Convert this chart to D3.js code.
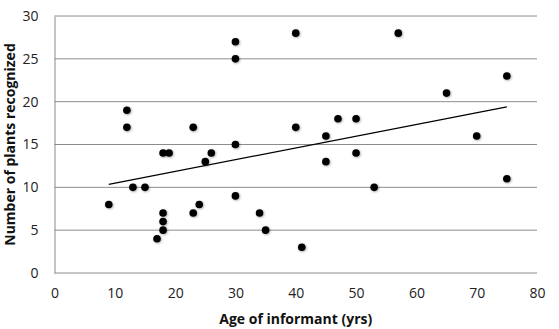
<!DOCTYPE html>
<html>
<head>
<meta charset="utf-8">
<script src="https://cdn.jsdelivr.net/npm/d3@7"></script>
<style>
  body { margin: 0; background: #fff; }
  svg { display: block; font-family: "Open Sans", sans-serif; }
</style>
</head>
<body>
<div id="wrapper"></div>
<script>
// age of informant (yrs) and number of plants recognized
const ages   = [9, 12, 12, 13, 15, 17, 18, 19, 18, 18, 18, 23, 23, 24, 25, 26, 30, 30, 30, 30,
                34, 35, 40, 40, 41, 45, 45, 47, 50, 50, 53, 57, 65, 70, 75, 75]
const plants = [8, 19, 17, 10, 10, 4, 14, 14, 7, 6, 5, 17, 7, 8, 13, 14, 27, 25, 15, 9,
                7, 5, 28, 17, 3, 16, 13, 18, 18, 14, 10, 28, 21, 16, 23, 11]
const xTicks = [0, 10, 20, 30, 40, 50, 60, 70, 80]
const yTicks = [0, 5, 10, 15, 20, 25, 30]

const dataset = ages.map((a, i) => ({ age: a, plants: plants[i] }))
const xAccessor = d => d.age
const yAccessor = d => d.plants

let dimensions = {
    width: 559,
    height: 329,
    margin: { top: 16, right: 22, bottom: 56, left: 54.5 },
}
dimensions.boundedWidth = dimensions.width - dimensions.margin.left - dimensions.margin.right
dimensions.boundedHeight = dimensions.height - dimensions.margin.top - dimensions.margin.bottom

const wrapper = d3.select("#wrapper")
    .append("svg")
    .attr("width", dimensions.width)
    .attr("height", dimensions.height)

const defs = wrapper.append("defs")
const shadow = defs.append("filter").attr("id", "shadow")
    .attr("x", "-50%").attr("y", "-50%").attr("width", "200%").attr("height", "200%")
shadow.append("feDropShadow")
    .attr("dx", 0.8).attr("dy", 0.8).attr("stdDeviation", 0.9)
    .attr("flood-color", "#000").attr("flood-opacity", 0.35)

const bounds = wrapper.append("g")
    .attr("transform", `translate(${dimensions.margin.left},${dimensions.margin.top})`)

const xScaler = d3.scaleLinear()
    .domain([0, 80])
    .range([0, dimensions.boundedWidth])

const yScaler = d3.scaleLinear()
    .domain([0, 30])
    .range([dimensions.boundedHeight, 0])

// gridlines
bounds.append("g")
    .selectAll("line")
    .data(yTicks)
    .join("line")
    .attr("x1", 0)
    .attr("x2", dimensions.boundedWidth)
    .attr("y1", d => yScaler(d))
    .attr("y2", d => yScaler(d))
    .attr("stroke", "#8c8c8c")
    .attr("stroke-width", 1)

// y axis
const yAxisGen = d3.axisLeft(yScaler).tickValues(yTicks).tickSize(0).tickPadding(16)
const yAxis = bounds.append("g").call(yAxisGen)
yAxis.select(".domain").attr("stroke", "#8c8c8c")
yAxis.selectAll("text")
    .attr("font-size", "14px")
    .attr("fill", "#222")
    .attr("font-family", "'Open Sans', sans-serif")

// x axis (labels only)
const xAxisGen = d3.axisBottom(xScaler).tickValues(xTicks).tickSize(0).tickPadding(15)
const xAxis = bounds.append("g")
    .attr("transform", `translate(0,${dimensions.boundedHeight})`)
    .call(xAxisGen)
xAxis.select(".domain").remove()
xAxis.selectAll("text")
    .attr("font-size", "14px")
    .attr("fill", "#222")
    .attr("font-family", "'Open Sans', sans-serif")

// linear trendline (least squares)
const meanX = d3.mean(dataset, xAccessor)
const meanY = d3.mean(dataset, yAccessor)
const slope = d3.sum(dataset, d => (xAccessor(d) - meanX) * (yAccessor(d) - meanY))
    / d3.sum(dataset, d => (xAccessor(d) - meanX) ** 2)
const intercept = meanY - slope * meanX
const [minX, maxX] = d3.extent(dataset, xAccessor)
bounds.append("line")
    .attr("x1", xScaler(minX))
    .attr("x2", xScaler(maxX))
    .attr("y1", yScaler(intercept + slope * minX))
    .attr("y2", yScaler(intercept + slope * maxX))
    .attr("stroke", "#000")
    .attr("stroke-width", 1.3)

// dots
bounds.append("g")
    .selectAll("circle")
    .data(dataset)
    .join("circle")
    .attr("cx", d => xScaler(xAccessor(d)))
    .attr("cy", d => yScaler(yAccessor(d)))
    .attr("r", 3.8)
    .attr("fill", "#000")
    .attr("filter", "url(#shadow)")

// axis titles
wrapper.append("text")
    .attr("x", dimensions.margin.left + dimensions.boundedWidth / 2)
    .attr("y", 324)
    .attr("text-anchor", "middle")
    .attr("font-size", "14px")
    .attr("font-weight", "bold")
    .attr("fill", "#111")
    .text("Age of informant (yrs)")

wrapper.append("text")
    .attr("transform", `translate(15,${dimensions.margin.top + dimensions.boundedHeight / 2}) rotate(-90)`)
    .attr("text-anchor", "middle")
    .attr("font-size", "14px")
    .attr("font-weight", "bold")
    .attr("fill", "#111")
    .text("Number of plants recognized")
</script>
</body>
</html>
